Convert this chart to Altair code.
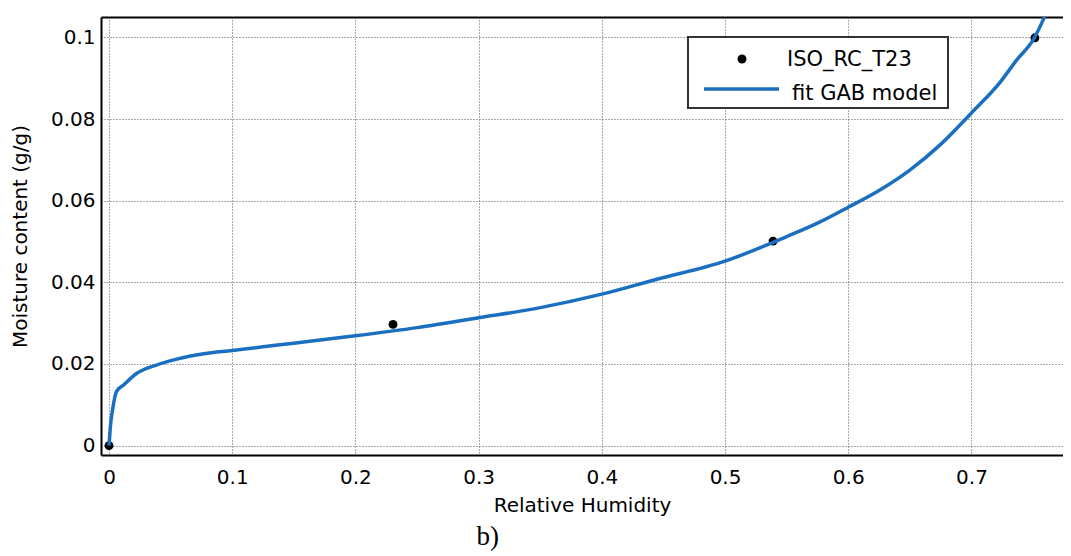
import altair as alt
import pandas as pd

# measured data points
pt_rh = [0.0, 0.2305, 0.539, 0.7515]
pt_mc = [0.0, 0.0297, 0.0501, 0.0999]

# fitted GAB curve
fit_rh = [0.0, 0.0014, 0.003, 0.006, 0.012, 0.022, 0.039, 0.055, 0.077, 0.1,
          0.125, 0.15, 0.2, 0.25, 0.3, 0.35, 0.4, 0.444, 0.5, 0.55, 0.575,
          0.6, 0.625, 0.65, 0.675, 0.7, 0.7232, 0.7368, 0.7503, 0.757, 0.762]
fit_mc = [0.0, 0.0055, 0.009, 0.0132, 0.0149, 0.0176, 0.0198, 0.0212, 0.0225,
          0.0233, 0.0242, 0.0251, 0.0269, 0.0289, 0.0313, 0.0338, 0.0371,
          0.0407, 0.0452, 0.0512, 0.0545, 0.0584, 0.0625, 0.0675, 0.0738,
          0.0815, 0.089, 0.0945, 0.0995, 0.1035, 0.107]

x_ticks = [0, 0.1, 0.2, 0.3, 0.4, 0.5, 0.6, 0.7]
y_ticks = [0, 0.02, 0.04, 0.06, 0.08, 0.1]
legend_labels = ["ISO_RC_T23", "fit GAB model"]

FONT = "DejaVu Sans"
W, H = 962, 438
xscale = alt.Scale(domain=[-0.0065, 0.7743], nice=False, zero=False)
yscale = alt.Scale(domain=[-0.0023, 0.105], nice=False, zero=False)

pts = pd.DataFrame({"rh": pt_rh, "mc": pt_mc})
fit = pd.DataFrame({"rh": fit_rh, "mc": fit_mc})

xaxis = alt.Axis(values=x_ticks, format=".1~f", title="Relative Humidity",
                 grid=True, gridColor="#555555", gridDash=[1, 2], gridWidth=1,
                 ticks=False, domainColor="black", domainWidth=2,
                 labelFont=FONT, labelFontSize=20, labelColor="black",
                 labelPadding=12, titleFont=FONT, titleFontSize=20,
                 titleFontWeight="normal", titleColor="black", titlePadding=8)
yaxis = alt.Axis(values=y_ticks, format=".2~f", title="Moisture content (g/g)",
                 grid=True, gridColor="#555555", gridDash=[1, 2], gridWidth=1,
                 ticks=False, domainColor="black", domainWidth=2,
                 labelFont=FONT, labelFontSize=20, labelColor="black",
                 labelPadding=6, titleFont=FONT, titleFontSize=20,
                 titleFontWeight="normal", titleColor="black", titlePadding=20)

points = alt.Chart(pts).mark_circle(size=80, color="black", opacity=1).encode(
    x=alt.X("rh:Q", scale=xscale, axis=xaxis),
    y=alt.Y("mc:Q", scale=yscale, axis=yaxis),
)
line = alt.Chart(fit).mark_line(color="#1a6fc0", strokeWidth=3.5, clip=True,
                                interpolate="monotone").encode(
    x=alt.X("rh:Q", scale=xscale, axis=None),
    y=alt.Y("mc:Q", scale=yscale, axis=yaxis),
)
top = alt.Chart(fit).mark_line(opacity=0).encode(
    x=alt.X("rh:Q", scale=xscale,
            axis=alt.Axis(orient="top", labels=False, ticks=False, grid=False,
                          domainColor="black", domainWidth=2, title=None)),
    y=alt.Y("mc:Q", scale=yscale, axis=yaxis),
)

one = pd.DataFrame({"k": [0]})
box = alt.Chart(one).mark_rect(fill="white", stroke="#333333", strokeWidth=2).encode(
    x=alt.value(587), x2=alt.value(847), y=alt.value(20), y2=alt.value(91))
lg_pt = alt.Chart(one).mark_circle(size=80, color="black", opacity=1).encode(
    x=alt.value(641), y=alt.value(42))
lg_ln = alt.Chart(one).mark_rule(color="#1a6fc0", strokeWidth=3.5).encode(
    x=alt.value(603), x2=alt.value(678), y=alt.value(72))
lg_t1 = alt.Chart(one).mark_text(text=legend_labels[0], font=FONT, fontSize=21,
                                 align="left", baseline="alphabetic", color="black").encode(
    x=alt.value(686), y=alt.value(49))
lg_t2 = alt.Chart(one).mark_text(text=legend_labels[1], font=FONT, fontSize=21,
                                 align="left", baseline="alphabetic", color="black").encode(
    x=alt.value(691), y=alt.value(83))

chart = alt.layer(points, line, top, box, lg_pt, lg_ln, lg_t1, lg_t2).resolve_axis(
    x="independent"
).properties(
    width=W, height=H,
    autosize=alt.AutoSizeParams(type="none"),
    padding={"left": 93, "top": 9, "right": 0, "bottom": 100},
    title=alt.TitleParams(text="b)", orient="bottom", anchor="start",
                          font="Liberation Serif", fontSize=27,
                          fontWeight="normal", color="black", dx=466, offset=9),
    background="white",
).configure_view(stroke=None)

chart.save("out.html", embed_options={"renderer": "svg", "actions": False})
